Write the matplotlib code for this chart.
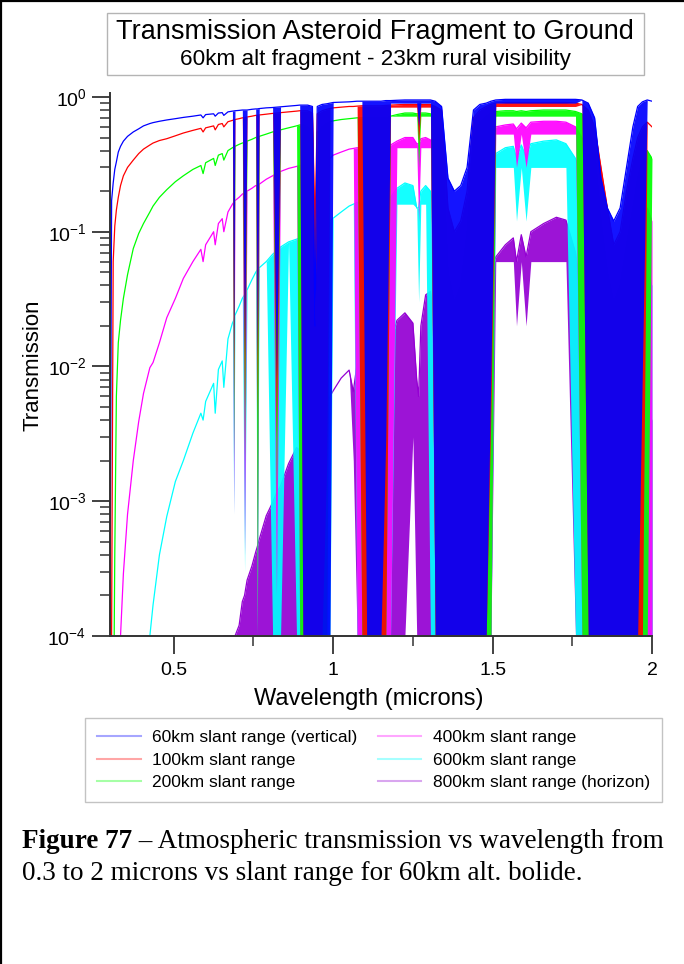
import numpy as np
import matplotlib
matplotlib.use("Agg")
import matplotlib.pyplot as plt
from matplotlib.lines import Line2D
from matplotlib.patches import Rectangle
from matplotlib.ticker import LogLocator, FixedLocator, FixedFormatter, NullFormatter

plt.rcParams['font.family'] = ['Liberation Sans', 'DejaVu Sans']
plt.rcParams['mathtext.fontset'] = 'custom'
plt.rcParams['mathtext.rm'] = 'Liberation Sans'
plt.rcParams['mathtext.it'] = 'Liberation Sans:italic'

# ---------------- data ----------------
wavelength = [
    0.300, 0.305, 0.310, 0.315, 0.320, 0.326, 0.333, 0.342, 0.355, 0.373,
    0.390, 0.405, 0.425, 0.435, 0.455, 0.478, 0.505, 0.530, 0.560, 0.585,
    0.592, 0.600, 0.625, 0.630, 0.640, 0.652, 0.657, 0.670, 0.684, 0.688,
    0.692, 0.705, 0.715, 0.722, 0.730, 0.745, 0.757, 0.762, 0.768, 0.790,
    0.810, 0.822, 0.835, 0.860, 0.885, 0.895, 0.905, 0.920, 0.935, 0.943,
    0.950, 0.965, 0.980, 0.990, 1.000, 1.025, 1.050, 1.063, 1.075, 1.090,
    1.105, 1.120, 1.135, 1.150, 1.165, 1.180, 1.200, 1.225, 1.250, 1.262,
    1.268, 1.275, 1.290, 1.305, 1.320, 1.340, 1.360, 1.380, 1.400, 1.420,
    1.440, 1.460, 1.480, 1.495, 1.510, 1.540, 1.565, 1.575, 1.590, 1.605,
    1.620, 1.660, 1.700, 1.730, 1.760, 1.780, 1.800, 1.820, 1.840, 1.860,
    1.880, 1.900, 1.920, 1.940, 1.955, 1.970, 1.985, 2.000]

t_60km = [
    1e-4, 0.17, 0.23, 0.29, 0.33, 0.39, 0.43, 0.47, 0.51, 0.55,
    0.58, 0.61, 0.635, 0.645, 0.66, 0.675, 0.69, 0.705, 0.72, 0.735,
    0.70, 0.74, 0.75, 0.72, 0.76, 0.765, 0.73, 0.775, 0.785, 0.787,
    0.79, 0.795, 0.80, 0.80, 0.80, 0.81, 0.815, 0.815, 0.82, 0.83,
    0.835, 0.84, 0.845, 0.855, 0.865, 0.87, 0.87, 0.87, 0.85, 0.02,
    0.85, 0.88, 0.89, 0.90, 0.91, 0.915, 0.92, 0.925, 0.93, 0.93,
    0.93, 0.93, 0.93, 0.93, 0.94, 0.94, 0.945, 0.95, 0.95, 0.95,
    0.95, 0.95, 0.95, 0.95, 0.93, 0.85, 0.25, 0.20, 0.22, 0.30,
    0.80, 0.88, 0.90, 0.93, 0.95, 0.96, 0.96, 0.96, 0.96, 0.96,
    0.96, 0.96, 0.96, 0.96, 0.96, 0.95, 0.90, 0.70, 0.25, 0.15,
    0.12, 0.15, 0.30, 0.60, 0.85, 0.92, 0.95, 0.93]

t_100km = [
    1e-5, 1e-4, 0.06, 0.11, 0.145, 0.18, 0.22, 0.26, 0.30, 0.34,
    0.38, 0.41, 0.44, 0.455, 0.475, 0.49, 0.515, 0.54, 0.565, 0.585,
    0.55, 0.59, 0.61, 0.57, 0.625, 0.635, 0.60, 0.655, 0.67, 0.675,
    0.68, 0.69, 0.70, 0.70, 0.71, 0.72, 0.73, 0.73, 0.735, 0.745,
    0.755, 0.76, 0.765, 0.775, 0.785, 0.79, 0.79, 0.79, 0.76, 0.10,
    0.75, 0.79, 0.81, 0.82, 0.83, 0.84, 0.85, 0.85, 0.855, 0.86,
    0.86, 0.86, 0.86, 0.86, 0.865, 0.87, 0.875, 0.88, 0.88, 0.88,
    0.88, 0.88, 0.88, 0.88, 0.85, 0.80, 0.15, 0.10, 0.12, 0.20,
    0.70, 0.80, 0.85, 0.88, 0.90, 0.91, 0.91, 0.91, 0.91, 0.91,
    0.91, 0.91, 0.91, 0.91, 0.90, 0.88, 0.80, 0.60, 0.30, 0.15,
    0.08, 0.10, 0.20, 0.35, 0.50, 0.60, 0.65, 0.60]

t_200km = [
    1e-5, 1e-5, 1e-5, 4e-4, 0.006, 0.015, 0.022, 0.032, 0.048, 0.075,
    0.097, 0.115, 0.14, 0.155, 0.18, 0.205, 0.235, 0.26, 0.29, 0.31,
    0.27, 0.325, 0.35, 0.31, 0.37, 0.38, 0.34, 0.40, 0.42, 0.425,
    0.43, 0.445, 0.455, 0.46, 0.47, 0.485, 0.50, 0.505, 0.51, 0.53,
    0.55, 0.56, 0.57, 0.59, 0.61, 0.62, 0.62, 0.60, 0.55, 0.05,
    0.55, 0.60, 0.64, 0.655, 0.665, 0.68, 0.69, 0.695, 0.70, 0.70,
    0.70, 0.70, 0.70, 0.70, 0.70, 0.72, 0.74, 0.76, 0.76, 0.75,
    0.75, 0.76, 0.76, 0.75, 0.70, 0.60, 0.05, 0.03, 0.04, 0.10,
    0.50, 0.65, 0.72, 0.76, 0.78, 0.79, 0.79, 0.78, 0.79, 0.78,
    0.79, 0.80, 0.80, 0.80, 0.78, 0.75, 0.60, 0.40, 0.12, 0.05,
    0.03, 0.04, 0.08, 0.15, 0.25, 0.35, 0.40, 0.35]

t_400km = [
    1e-5, 1e-5, 1e-5, 1e-5, 1e-5, 1e-4, 1e-4, 2.9e-4, 8e-4, 0.002,
    0.0039, 0.0063, 0.0098, 0.0107, 0.015, 0.023, 0.032, 0.045, 0.06, 0.074,
    0.06, 0.08, 0.10, 0.08, 0.115, 0.125, 0.10, 0.14, 0.16, 0.165,
    0.17, 0.18, 0.19, 0.195, 0.20, 0.21, 0.22, 0.22, 0.225, 0.245,
    0.26, 0.27, 0.28, 0.295, 0.305, 0.31, 0.31, 0.28, 0.20, 0.01,
    0.20, 0.28, 0.33, 0.35, 0.37, 0.39, 0.41, 0.415, 0.42, 0.42,
    0.42, 0.42, 0.42, 0.42, 0.42, 0.44, 0.47, 0.50, 0.50, 0.45,
    0.45, 0.49, 0.50, 0.48, 0.40, 0.25, 0.005, 0.002, 0.003, 0.02,
    0.25, 0.40, 0.50, 0.56, 0.60, 0.62, 0.63, 0.58, 0.64, 0.59,
    0.65, 0.66, 0.66, 0.65, 0.60, 0.50, 0.30, 0.10, 0.01, 0.003,
    0.001, 0.002, 0.006, 0.02, 0.05, 0.10, 0.15, 0.12]

t_600km = [
    1e-5, 1e-5, 1e-5, 1e-5, 1e-5, 1e-5, 1e-5, 1e-5, 1e-5, 1e-5,
    1e-5, 1e-4, 1e-4, 1.7e-4, 4e-4, 7.7e-4, 0.0014, 0.002, 0.0032, 0.0045,
    0.004, 0.0055, 0.0075, 0.0045, 0.0095, 0.011, 0.007, 0.016, 0.021, 0.022,
    0.024, 0.028, 0.032, 0.034, 0.037, 0.044, 0.05, 0.052, 0.054, 0.06,
    0.068, 0.072, 0.077, 0.084, 0.088, 0.09, 0.09, 0.07, 0.04, 5e-4,
    0.04, 0.08, 0.11, 0.12, 0.126, 0.14, 0.155, 0.16, 0.165, 0.165,
    0.165, 0.165, 0.165, 0.165, 0.165, 0.18, 0.21, 0.23, 0.22, 0.15,
    0.15, 0.20, 0.22, 0.20, 0.13, 0.05, 3e-4, 1e-4, 1e-4, 0.002,
    0.05, 0.15, 0.25, 0.32, 0.38, 0.42, 0.43, 0.35, 0.44, 0.36,
    0.45, 0.47, 0.48, 0.45, 0.35, 0.25, 0.08, 0.01, 5e-4, 1e-4,
    1e-4, 1e-4, 5e-4, 0.003, 0.01, 0.03, 0.05, 0.04]

t_800km = [
    1e-5, 1e-5, 1e-5, 1e-5, 1e-5, 1e-5, 1e-5, 1e-5, 1e-5, 1e-5,
    1e-5, 1e-5, 1e-5, 1e-5, 1e-5, 1e-5, 1e-5, 1e-5, 1e-5, 1e-5,
    1e-5, 1e-5, 1e-5, 1e-5, 1e-5, 1e-5, 1e-4, 1e-4, 1e-4, 1e-4,
    1e-4, 1.2e-4, 1.8e-4, 2e-4, 2.6e-4, 3.3e-4, 4.2e-4, 4.6e-4, 5.2e-4, 7.8e-4,
    9.8e-4, 0.00115, 0.0013, 0.0019, 0.0025, 0.0024, 0.002, 0.001, 3e-4, 1e-4,
    2e-4, 0.0012, 0.005, 0.006, 0.0066, 0.0082, 0.0094, 0.0065, 0.0105, 0.009,
    0.004, 0.002, 0.002, 0.004, 0.008, 0.015, 0.022, 0.025, 0.021, 0.008,
    0.006, 0.02, 0.034, 0.036, 0.02, 0.005, 2e-4, 1e-4, 1e-4, 3e-4,
    0.002, 0.012, 0.03, 0.05, 0.065, 0.08, 0.09, 0.06, 0.095, 0.065,
    0.10, 0.115, 0.128, 0.122, 0.07, 0.03, 0.005, 5e-4, 1e-4, 1e-4,
    1e-4, 1e-4, 1e-4, 3e-4, 0.001, 0.003, 0.005, 0.004]

# absorption bands: (from wavelength, to wavelength, lowest transmission)
bands_60km = [(0.688, 0.688, 0.012), (0.722, 0.722, 0.012), (0.762, 0.762, 0.012),
              (0.822, 0.822, 0.008), (0.905, 0.990, 1e-4),
              (1.105, 1.150, 1e-4), (1.165, 1.165, 0.003), (1.180, 1.305, 0.90),
              (1.268, 1.268, 0.60), (1.320, 1.480, 1e-4), (1.495, 1.495, 0.01),
              (1.510, 1.760, 0.90), (1.800, 1.955, 1e-4), (1.970, 1.970, 0.01)]
bands_100km = [(0.688, 0.688, 0.006), (0.722, 0.722, 0.005), (0.762, 0.762, 0.004),
               (0.822, 0.822, 0.003), (0.905, 0.965, 1e-4), (0.980, 0.980, 0.002),
               (1.090, 1.165, 1e-4), (1.180, 1.305, 0.84), (1.268, 1.268, 0.45),
               (1.320, 1.480, 1e-4), (1.495, 1.495, 0.005), (1.510, 1.760, 0.85),
               (1.800, 1.970, 1e-4)]
bands_200km = [(0.688, 0.688, 0.002), (0.722, 0.722, 0.002), (0.762, 0.762, 1e-4),
               (0.822, 0.822, 0.001), (0.895, 0.980, 1e-4), (1.090, 1.165, 1e-4),
               (1.180, 1.305, 0.72), (1.268, 1.268, 0.30), (1.320, 1.495, 1e-4),
               (1.510, 1.760, 0.72), (1.780, 1.985, 1e-4)]
bands_400km = [(0.688, 0.688, 8e-4), (0.722, 0.722, 4e-4), (0.762, 0.762, 1e-4),
               (0.822, 0.822, 2e-4), (0.895, 0.980, 1e-4), (1.075, 1.180, 1e-4),
               (1.200, 1.305, 0.42), (1.268, 1.268, 0.12), (1.320, 1.495, 1e-4),
               (1.510, 1.760, 0.53), (1.575, 1.575, 0.30), (1.605, 1.605, 0.30),
               (1.780, 2.000, 1e-4)]
bands_600km = [(0.688, 0.688, 8e-4), (0.722, 0.722, 3e-4), (0.762, 0.762, 1e-4),
               (0.810, 0.835, 1e-4), (0.885, 0.990, 1e-4), (1.075, 1.180, 1e-4),
               (1.200, 1.290, 0.16), (1.268, 1.268, 0.03), (1.305, 1.495, 1e-4),
               (1.510, 1.730, 0.30), (1.575, 1.575, 0.12), (1.605, 1.605, 0.12),
               (1.760, 2.000, 1e-4)]
bands_800km = [(0.705, 0.895, 1e-4), (0.905, 0.980, 1e-4), (1.063, 1.063, 0.002),
               (1.075, 1.225, 1e-4), (1.250, 1.250, 0.003), (1.262, 1.275, 1e-4),
               (1.290, 1.495, 1e-4), (1.510, 1.730, 0.06), (1.575, 1.575, 0.02),
               (1.605, 1.605, 0.02), (1.760, 2.000, 1e-4)]

labels = ["60km slant range (vertical)", "100km slant range", "200km slant range",
          "400km slant range", "600km slant range", "800km slant range (horizon)"]
colors = ["#0000ff", "#ff0000", "#00ff00", "#ff00ff", "#00ffff", "#9400d3"]
series = [t_60km, t_100km, t_200km, t_400km, t_600km, t_800km]
bands = [bands_60km, bands_100km, bands_200km, bands_400km, bands_600km, bands_800km]

x_ticks = [0.5, 1.0, 1.5, 2.0]
x_ticklabels = ["0.5", "1", "1.5", "2"]
x_minor = [0.75, 1.25, 1.75]

# ---------------- figure ----------------
W, H = 684, 964
fig = plt.figure(figsize=(W / 100, H / 100), dpi=100)
fig.patch.set_facecolor("white")

def fx(px):
    return px / W

def fy(py):
    return 1 - py / H

ax = fig.add_axes([fx(110), fy(636), fx(652) - fx(110), fy(93) - fy(636)])

wl = np.array(wavelength)
n = len(series)
# longest path drawn first, vertical path ends on top
for i in reversed(range(n)):
    top = np.array(series[i])
    low = top.copy()
    for lo, hi, floor in bands[i]:
        m = (wl >= lo - 1e-9) & (wl <= hi + 1e-9)
        low[m] = np.minimum(floor, top[m])
    z = 2 + (n - i) * 0.1
    ax.fill_between(wl, low, top, color=colors[i], lw=0, alpha=0.92, zorder=z)
    ax.plot(wl, top, color=colors[i], lw=0.9, zorder=z + 0.05)

ax.set_yscale("log")
ax.set_xlim(0.3, 2.0)
ax.set_ylim(1e-4, 1.07)

ax.xaxis.set_major_locator(FixedLocator(x_ticks))
ax.xaxis.set_major_formatter(FixedFormatter(x_ticklabels))
ax.xaxis.set_minor_locator(FixedLocator(x_minor))
ax.yaxis.set_major_locator(LogLocator(base=10, numticks=10))
ax.yaxis.set_minor_locator(LogLocator(base=10, subs=np.arange(2, 10), numticks=20))
ax.yaxis.set_minor_formatter(NullFormatter())

for s in ["top", "right"]:
    ax.spines[s].set_visible(False)
for s in ["left", "bottom"]:
    ax.spines[s].set_linewidth(1.4)
    ax.spines[s].set_color("#333333")
    ax.spines[s].set_zorder(5)

ax.tick_params(axis="both", which="major", direction="out", length=13, width=1.3,
               color="#333333", labelsize=14, pad=4)
ax.tick_params(axis="both", which="minor", direction="out", length=7, width=1.1,
               color="#333333")
ax.tick_params(axis="x", which="major", pad=6)

fig.text(fx(33), fy(365), "Transmission", rotation=90, ha="center", va="center", fontsize=16)
fig.text(fx(369), fy(699), "Wavelength (microns)", ha="center", va="center", fontsize=17)

# title box
fig.patches.append(Rectangle((fx(107), fy(75)), fx(644) - fx(107), fy(13) - fy(75),
                             transform=fig.transFigure, fill=False, ec="#b4b4b4", lw=1.0))
fig.text(fx(375), fy(32), "Transmission Asteroid Fragment to Ground", ha="center", va="center",
         fontsize=19.5)
fig.text(fx(375), fy(60), "60km alt fragment - 23km rural visibility", ha="center", va="center",
         fontsize=16.2)

# legend
handles = [Line2D([0], [0], color=c, lw=1.5, alpha=0.35) for c in colors]
leg = fig.legend(handles, labels, ncol=2, loc="upper left",
                 bbox_to_anchor=(fx(85), fy(718)), frameon=True, fancybox=False,
                 edgecolor="#b4b4b4", fontsize=12.5, handlelength=2.5, handletextpad=0.65,
                 columnspacing=1.2, labelspacing=0.42, borderpad=0.7, borderaxespad=0)
leg.get_frame().set_linewidth(1.0)

# caption
r = fig.canvas.get_renderer()
t1 = fig.text(fx(22), fy(841), "Figure 77", fontfamily="Liberation Serif", fontweight="bold",
              fontsize=19.5, ha="left", va="center")
bb = t1.get_window_extent(r)
fig.text(bb.x1 / W, fy(841), " \u2013 Atmospheric transmission vs wavelength from",
         fontfamily="Liberation Serif", fontsize=19.5, ha="left", va="center")
fig.text(fx(22), fy(873), "0.3 to 2 microns vs slant range for 60km alt. bolide.",
         fontfamily="Liberation Serif", fontsize=19.5, ha="left", va="center")

# page border (left and top)
fig.add_artist(Line2D([fx(1.2), fx(1.2)], [0, 1], color="black", lw=1.6))
fig.add_artist(Line2D([0, 1], [fy(1.2), fy(1.2)], color="black", lw=1.6))

fig.savefig("out.png", dpi=100)
